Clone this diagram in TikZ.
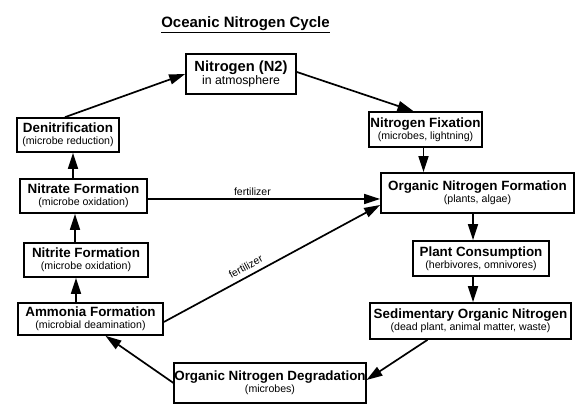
\documentclass[tikz,border=0pt]{standalone}
\usepackage{fontspec}
\setmainfont{Liberation Sans}
\usetikzlibrary{arrows.meta}
\newcommand\ttl[1]{{\fontsize{13.4}{15}\selectfont\bfseries #1}}
\newcommand\subt[1]{{\fontsize{10.6}{13}\selectfont #1}}
\begin{document}
\begin{tikzpicture}[x=1pt,y=-1pt,
  box/.style={draw, line width=1.7pt, inner sep=0pt, align=center},
  arr/.style={line width=1.7pt, -{Triangle[length=16pt,width=10pt]}},
  lbl/.style={font=\fontsize{10.5}{12}\selectfont, inner sep=1pt}]
\useasboundingbox (0,0) rectangle (576,411);
\fill[white] (0,0) rectangle (576,411);
\node[font=\fontsize{15}{17}\selectfont\bfseries, inner sep=0pt] (title) at (245.5,25) {\underline{Oceanic Nitrogen Cycle}};

\node[box, minimum width=110pt, minimum height=40pt] (n2) at (241,74)
  {{\fontsize{14.7}{16}\selectfont\bfseries Nitrogen (N2)}\\{\fontsize{12.3}{14}\selectfont in atmosphere}};
\node[box, minimum width=102pt, minimum height=34pt] (denit) at (68,135)
  {\ttl{Denitrification}\\\subt{(microbe reduction)}};
\node[box, minimum width=113pt, minimum height=35pt] (fix) at (425.5,129.5)
  {\ttl{Nitrogen Fixation}\\\subt{(microbes, lightning)}};
\node[box, minimum width=127pt, minimum height=34pt] (nitrate) at (83.5,196)
  {\ttl{Nitrate Formation}\\\subt{(microbe oxidation)}};
\node[box, minimum width=124pt, minimum height=34pt] (nitrite) at (86,260)
  {\ttl{Nitrite Formation}\\\subt{(microbe oxidation)}};
\node[box, minimum width=145pt, minimum height=32pt] (ammonia) at (90.5,319)
  {\ttl{Ammonia Formation}\\\subt{(microbial deamination)}};
\node[box, minimum width=193pt, minimum height=40pt] (orgform) at (477.5,193)
  {\ttl{Organic Nitrogen Formation}\\\subt{(plants, algae)}};
\node[box, minimum width=136pt, minimum height=35pt] (plant) at (481,258.5)
  {\ttl{Plant Consumption}\\\subt{(herbivores, omnivores)}};
\node[box, minimum width=201pt, minimum height=36pt] (sed) at (470.5,321)
  {\ttl{Sedimentary Organic Nitrogen}\\\subt{(dead plant, animal matter, waste)}};
\node[box, minimum width=190pt, minimum height=40pt] (degr) at (270,383)
  {\ttl{Organic Nitrogen Degradation}\\\subt{(microbes)}};

\draw[arr] ([xshift=-3pt]denit.north) -- (n2.west);
\draw[arr] ([yshift=2pt]n2.east) -- ([xshift=-12pt]fix.north);
\draw[arr] ([xshift=-2pt]fix.south) -- ([xshift=-2pt]fix.south |- orgform.north);
\draw[arr] ([xshift=-10.5pt]nitrate.north) -- ([xshift=-10.5pt]nitrate.north |- denit.south);
\draw[arr] ([xshift=-11pt]nitrite.north) -- ([xshift=-11pt]nitrite.north |- nitrate.south);
\draw[arr] ([xshift=-14.5pt]ammonia.north) -- ([xshift=-14.5pt]ammonia.north |- nitrite.south);
\draw[arr] ([yshift=-3pt]nitrate.east) -- ([yshift=-3pt]nitrate.east -| orgform.west)
  node[lbl, pos=0.45, above=2pt] (f1) {fertilizer};
\draw[arr] ([yshift=-3pt]ammonia.east) -- ([yshift=-12pt]orgform.west)
  node[lbl, pos=0.4, above=4pt, sloped] (f2) {fertilizer};
\draw[arr] ([xshift=-4.5pt]orgform.south) -- ([xshift=-4.5pt]orgform.south |- plant.north);
\draw[arr] ([xshift=-8pt]plant.south) -- ([xshift=-8pt]plant.south |- sed.north);
\draw[arr] ([xshift=-43pt]sed.south) -- ([yshift=3pt]degr.east);
\draw[arr] (degr.west) -- ([xshift=15pt]ammonia.south);
\end{tikzpicture}
\end{document}
